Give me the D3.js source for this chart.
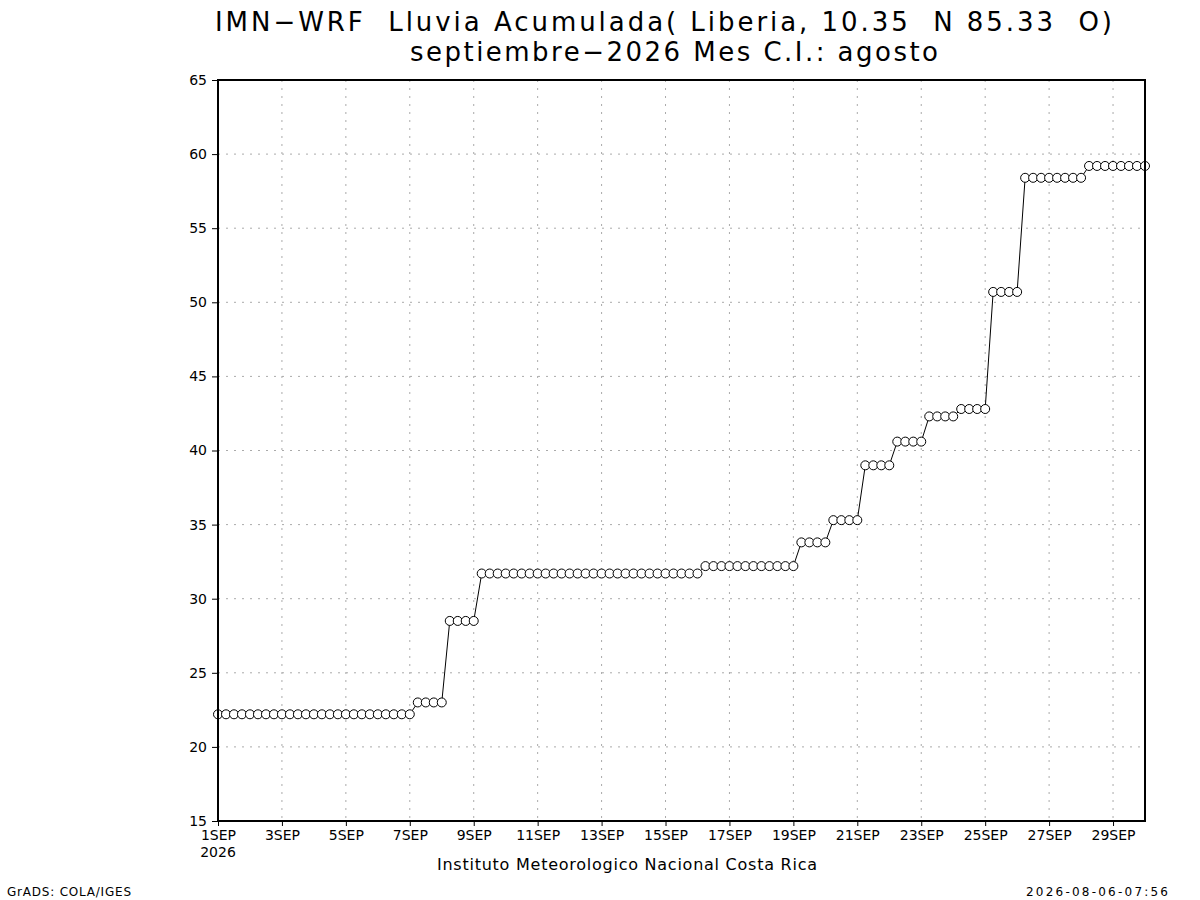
<!DOCTYPE html>
<html>
<head>
<meta charset="utf-8">
<script src="https://cdn.jsdelivr.net/npm/d3@7"></script>
<style>
  body { margin: 0; background: #fff; }
  text { font-family: "DejaVu Sans", "Liberation Sans", sans-serif; fill: #000; white-space: pre; }
</style>
</head>
<body>
<div id="svgcontainer" style="width:1200px;height:900px;"></div>
<script>
// accumulated rain, 6-hourly, 1SEP 00Z .. 30SEP 00Z (4 values per day)
var values = [
  22.2, 22.2, 22.2, 22.2,   // 1
  22.2, 22.2, 22.2, 22.2,   // 2
  22.2, 22.2, 22.2, 22.2,   // 3
  22.2, 22.2, 22.2, 22.2,   // 4
  22.2, 22.2, 22.2, 22.2,   // 5
  22.2, 22.2, 22.2, 22.2,   // 6
  22.2, 23.0, 23.0, 23.0,   // 7
  23.0, 28.5, 28.5, 28.5,   // 8
  28.5, 31.7, 31.7, 31.7,   // 9
  31.7, 31.7, 31.7, 31.7,   // 10
  31.7, 31.7, 31.7, 31.7,   // 11
  31.7, 31.7, 31.7, 31.7,   // 12
  31.7, 31.7, 31.7, 31.7,   // 13
  31.7, 31.7, 31.7, 31.7,   // 14
  31.7, 31.7, 31.7, 31.7,   // 15
  31.7, 32.2, 32.2, 32.2,   // 16
  32.2, 32.2, 32.2, 32.2,   // 17
  32.2, 32.2, 32.2, 32.2,   // 18
  32.2, 33.8, 33.8, 33.8,   // 19
  33.8, 35.3, 35.3, 35.3,   // 20
  35.3, 39.0, 39.0, 39.0,   // 21
  39.0, 40.6, 40.6, 40.6,   // 22
  40.6, 42.3, 42.3, 42.3,   // 23
  42.3, 42.8, 42.8, 42.8,   // 24
  42.8, 50.7, 50.7, 50.7,   // 25
  50.7, 58.4, 58.4, 58.4,   // 26
  58.4, 58.4, 58.4, 58.4,   // 27
  58.4, 59.2, 59.2, 59.2,   // 28
  59.2, 59.2, 59.2, 59.2,   // 29
  59.2                      // 30
];

var xTickDays = [1, 3, 5, 7, 9, 11, 13, 15, 17, 19, 21, 23, 25, 27, 29];
var xTickLabels = ["1SEP", "3SEP", "5SEP", "7SEP", "9SEP", "11SEP", "13SEP", "15SEP",
                   "17SEP", "19SEP", "21SEP", "23SEP", "25SEP", "27SEP", "29SEP"];
var yTicks = [15, 20, 25, 30, 35, 40, 45, 50, 55, 60, 65];
var yTickLabels = ["15", "20", "25", "30", "35", "40", "45", "50", "55", "60", "65"];

var titleLine1 = "IMN\u2212WRF  Lluvia Acumulada( Liberia, 10.35  N 85.33  O)";
var titleLine2 = "septiembre\u22122026 Mes C.I.: agosto";
var footer = "Instituto Meteorologico Nacional Costa Rica";

var width = 1200, height = 900;
var plotLeft = 218, plotRight = 1145, plotTop = 80, plotBottom = 821;

var start = new Date(Date.UTC(2026, 8, 1));
var end = new Date(Date.UTC(2026, 8, 30));
var times = d3.utcHour.every(6).range(start, d3.utcHour.offset(end, 1));
var data = values.map(function(v, i) { return {t: times[i], v: v}; });
var tickDates = xTickDays.map(function(d) { return new Date(Date.UTC(2026, 8, d)); });

var x = d3.scaleUtc().domain([start, end]).range([plotLeft, plotRight]);
var y = d3.scaleLinear().domain([15, 65]).range([plotBottom, plotTop]);

var svg = d3.select("#svgcontainer")
   .append("svg")
   .attr("width", width)
   .attr("height", height);

svg.append("rect").attr("width", width).attr("height", height).attr("fill", "#fff");

// grid
var grid = svg.append("g");
grid.selectAll("line.v")
   .data(tickDates.slice(1))
   .enter().append("line")
   .attr("x1", function(d) { return x(d); })
   .attr("x2", function(d) { return x(d); })
   .attr("y1", plotTop).attr("y2", plotBottom)
   .style("stroke", "#aaaaaa")
   .style("stroke-dasharray", "2,6");
grid.selectAll("line.h")
   .data(yTicks.slice(1))
   .enter().append("line")
   .attr("x1", plotLeft).attr("x2", plotRight)
   .attr("y1", function(d) { return y(d); })
   .attr("y2", function(d) { return y(d); })
   .style("stroke", "#aaaaaa")
   .style("stroke-dasharray", "2,6");

// axes
var xAxis = d3.axisBottom(x)
   .tickValues(tickDates)
   .tickFormat(function(d, i) { return xTickLabels[i]; })
   .tickSizeInner(5).tickSizeOuter(0).tickPadding(1);
var gx = svg.append("g")
   .attr("transform", "translate(0," + plotBottom + ")")
   .call(xAxis);
gx.select(".domain").remove();
gx.selectAll("line").style("stroke", "#000");
gx.selectAll("text")
   .style("font-size", "14px")
   .style("font-family", "'DejaVu Sans', sans-serif")
   .attr("dy", "0.95em");

var yAxis = d3.axisLeft(y)
   .tickValues(yTicks)
   .tickFormat(function(d, i) { return yTickLabels[i]; })
   .tickSizeInner(6).tickSizeOuter(0).tickPadding(5);
var gy = svg.append("g")
   .attr("transform", "translate(" + plotLeft + ",0)")
   .call(yAxis);
gy.select(".domain").remove();
gy.selectAll("line").style("stroke", "#000");
gy.selectAll("text")
   .style("font-size", "14px")
   .style("font-family", "'DejaVu Sans', sans-serif");

svg.append("text")
   .attr("x", x(start)).attr("y", 857)
   .attr("text-anchor", "middle")
   .style("font-size", "14px")
   .text("2026");

// series
var line = d3.line()
   .x(function(d) { return x(d.t); })
   .y(function(d) { return y(d.v); });

svg.append("path")
   .datum(data)
   .attr("d", line)
   .attr("fill", "none")
   .style("stroke", "#000")
   .style("stroke-width", 1);

svg.append("g").selectAll("circle")
   .data(data)
   .enter().append("circle")
   .attr("cx", function(d) { return x(d.t); })
   .attr("cy", function(d) { return y(d.v); })
   .attr("r", 4.5)
   .attr("fill", "#fff")
   .style("stroke", "#000")
   .style("stroke-width", 1);

// frame
svg.append("rect")
   .attr("x", plotLeft).attr("y", plotTop)
   .attr("width", plotRight - plotLeft).attr("height", plotBottom - plotTop)
   .attr("fill", "none")
   .style("stroke", "#000")
   .style("stroke-width", 2);

// titles
svg.append("text")
   .attr("x", 215).attr("y", 31)
   .attr("textLength", 897)
   .style("font-size", "26px")
   .text(titleLine1);
svg.append("text")
   .attr("x", 410).attr("y", 61)
   .attr("textLength", 528)
   .style("font-size", "26px")
   .text(titleLine2);

svg.append("text")
   .attr("x", 437).attr("y", 870)
   .attr("textLength", 380)
   .style("font-size", "16px")
   .text(footer);

svg.append("text")
   .attr("x", 7).attr("y", 896)
   .attr("textLength", 124)
   .style("font-size", "12px")
   .text("GrADS: COLA/IGES");

svg.append("text")
   .attr("x", 1026).attr("y", 896)
   .attr("textLength", 142)
   .style("font-size", "12px")
   .text("2026-08-06-07:56");
</script>
</body>
</html>
